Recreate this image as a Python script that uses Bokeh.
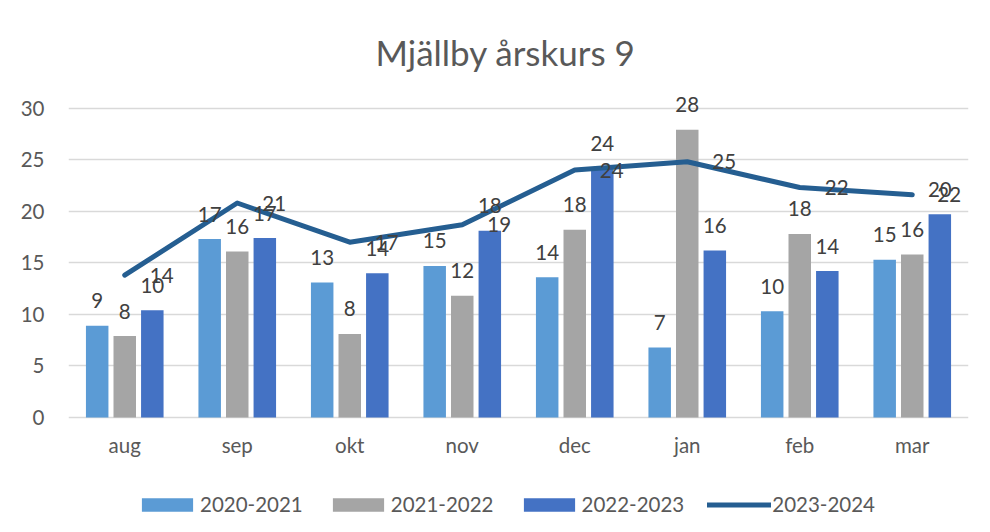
from bokeh.plotting import figure
from bokeh.models import (ColumnDataSource, FactorRange, Range1d, LabelSet,
                          Legend, LegendItem, FixedTicker)
from bokeh.core.properties import value
from bokeh.transform import dodge
from bokeh.embed import file_html
from bokeh.resources import INLINE

# ---- data ----
months = ["aug", "sep", "okt", "nov", "dec", "jan", "feb", "mar"]
s2020_2021 = [8.9, 17.3, 13.1, 14.7, 13.6, 6.8, 10.3, 15.3]
s2021_2022 = [7.9, 16.1, 8.1, 11.8, 18.2, 27.9, 17.8, 15.8]
s2022_2023 = [10.4, 17.4, 14.0, 18.1, 24.1, 16.2, 14.2, 19.7]
s2023_2024 = [13.8, 20.8, 17.0, 18.7, 24.0, 24.8, 22.3, 21.6]
series_names = ["2020-2021", "2021-2022", "2022-2023", "2023-2024"]
y_ticks = [0, 5, 10, 15, 20, 25, 30]

FONT = "Lato"
TXT = "#595959"
LBL = "#404040"
GRID = "#d9d9d9"
COLORS = ["#5b9bd5", "#a5a5a5", "#4472c4", "#255e91"]
FS = "20.5px"

def fmt(vals):
    return ["%d" % int(round(v)) for v in vals]

src = ColumnDataSource(dict(
    month=months,
    base=[0] * len(months),
    a=s2020_2021, b=s2021_2022, c=s2022_2023, d=s2023_2024,
    la=fmt(s2020_2021), lb=fmt(s2021_2022), lc=fmt(s2022_2023), ld=fmt(s2023_2024),
))

# frame extends below zero so the category labels and legend live inside it
p = figure(x_range=FactorRange(*months, range_padding=0, factor_padding=0),
           y_range=Range1d(-9.6, 32),
           frame_width=900, frame_height=429,
           x_axis_location=None,
           output_backend="svg", toolbar_location=None,
           min_border_left=68, min_border_right=6, min_border_top=87,
           min_border_bottom=0)
p.border_fill_color = "white"
p.background_fill_color = "white"

p.title.text = "Mjällby årskurs 9"
p.title.text_font = FONT
p.title.text_font_size = "35px"
p.title.text_font_style = "normal"
p.title.text_color = TXT
p.title.align = "left"
p.title.offset = 307
p.title.standoff = 30

W = 0.2
OFF = 0.245
offs = [-OFF, 0.0, OFF]
cols = ["a", "b", "c"]
lcols = ["la", "lb", "lc"]
renderers = []
for i in range(3):
    r = p.vbar(x=dodge("month", offs[i], range=p.x_range), top=cols[i], width=W,
               source=src, fill_color=COLORS[i], line_color=None)
    renderers.append(r)

ln = p.line(x="month", y="d", source=src, line_color=COLORS[3], line_width=5,
            line_cap="round", line_join="round")
renderers.append(ln)

for i in range(3):
    ls = LabelSet(x=dodge("month", offs[i], range=p.x_range), y=cols[i], text=lcols[i],
                  source=src, y_offset=25, text_align="center", text_baseline="middle",
                  text_font=value(FONT), text_font_size=value(FS), text_color=LBL)
    p.add_layout(ls)
lsl = LabelSet(x="month", y="d", text="ld", source=src, x_offset=37, y_offset=0,
               text_align="center", text_baseline="middle",
               text_font=value(FONT), text_font_size=value(FS), text_color=LBL)
p.add_layout(lsl)

# category labels (x axis)
xl = LabelSet(x="month", y="base", text="month", source=src, y_offset=-15,
              text_align="center", text_baseline="top",
              text_font=value(FONT), text_font_size=value(FS), text_color=TXT)
p.add_layout(xl)

# y axis
p.yaxis.ticker = FixedTicker(ticks=y_ticks)
p.yaxis.axis_line_color = None
p.yaxis.major_tick_line_color = None
p.yaxis.minor_tick_line_color = None
p.yaxis.major_label_text_font = FONT
p.yaxis.major_label_text_font_size = FS
p.yaxis.major_label_text_color = TXT
p.yaxis.major_label_standoff = 18

p.xgrid.grid_line_color = None
p.ygrid.grid_line_color = GRID
p.ygrid.grid_line_width = 1.7
p.outline_line_color = None

legend = Legend(items=[LegendItem(label=series_names[i], renderers=[renderers[i]]) for i in range(4)],
                orientation="horizontal", location=(67, 0),
                glyph_width=64, glyph_height=17, label_standoff=1, spacing=23,
                label_text_font=FONT, label_text_font_size=FS, label_text_color=TXT,
                border_line_color=None, background_fill_alpha=0, margin=0, padding=0)
p.add_layout(legend, "center")

open("out.html", "w").write(file_html(p, INLINE))
